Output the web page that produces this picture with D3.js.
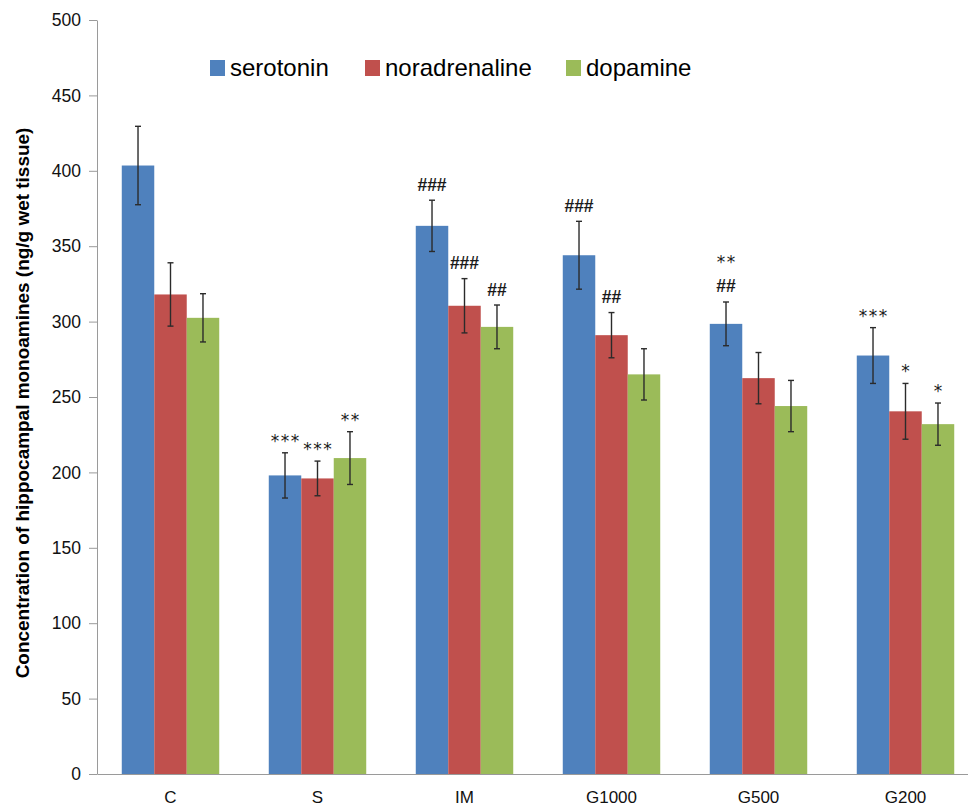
<!DOCTYPE html>
<html>
<head>
<meta charset="utf-8">
<script src="https://cdn.jsdelivr.net/npm/d3@7"></script>
<style>
  html, body { margin: 0; padding: 0; background: #fff; }
  svg { display: block; }
</style>
</head>
<body>
<svg id="chart" width="968" height="810"></svg>
<script>
// ---- data ----
const categories = ["C", "S", "IM", "G1000", "G500", "G200"];
const seriesNames = ["serotonin", "noradrenaline", "dopamine"];
const serotonin = [403.5, 198, 363.5, 344, 298.5, 277.5];
const noradrenaline = [318, 196, 310.5, 291, 262.5, 240.5];
const dopamine = [302.5, 209.5, 296.5, 265, 244, 232];
const serotoninErr = [26, 15, 17, 22.5, 14.5, 18.5];
const noradrenalineErr = [21, 11.5, 18, 15, 17, 18.5];
const dopamineErr = [16, 17.5, 14.5, 17, 17, 14];
// significance marks, listed from the bottom line upward
const serotoninMarks = [[], ["***"], ["###"], ["###"], ["##", "**"], ["***"]];
const noradrenalineMarks = [[], ["***"], ["###"], ["##"], [], ["*"]];
const dopamineMarks = [[], ["**"], ["##"], [], [], ["*"]];
const yTicks = [0, 50, 100, 150, 200, 250, 300, 350, 400, 450, 500];
const yTitle = "Concentration of hippocampal monoamines (ng/g wet tissue)";

(function () {
// ---- build table ----
const values = [serotonin, noradrenaline, dopamine];
const errs = [serotoninErr, noradrenalineErr, dopamineErr];
const marks = [serotoninMarks, noradrenalineMarks, dopamineMarks];
const colors = ["#4F81BD", "#C0504D", "#9BBB59"];
const color = d3.scaleOrdinal().domain(seriesNames).range(colors);

const table = [];
categories.forEach((c, i) => {
  seriesNames.forEach((s, j) => {
    table.push({ cat: c, series: s, value: values[j][i], err: errs[j][i], marks: marks[j][i] });
  });
});

// ---- layout ----
const svg = d3.select("#chart");
const mLeft = 97, mRight = 979, mTop = 20, mBottom = 774;

const x0 = d3.scaleBand().domain(categories).range([mLeft, mRight])
  .paddingInner(0.337).paddingOuter(0.1685);
const x1 = d3.scaleBand().domain(seriesNames).range([0, x0.bandwidth()]);
const y = d3.scaleLinear().domain([0, 500]).range([mBottom, mTop]);

// y axis
const yAxis = svg.append("g")
  .attr("transform", `translate(${mLeft},0)`)
  .call(d3.axisLeft(y).tickValues(yTicks).tickSize(8).tickPadding(8).tickSizeOuter(0));
yAxis.select(".domain").attr("stroke", "#9a9a9a");
yAxis.selectAll(".tick line").attr("stroke", "#9a9a9a");
yAxis.selectAll(".tick text")
  .attr("font-family", "Liberation Sans, Arial, sans-serif")
  .attr("font-size", 17.5).attr("fill", "#111");

// bars
svg.append("g").selectAll("rect").data(table).join("rect")
  .attr("x", d => x0(d.cat) + x1(d.series))
  .attr("y", d => y(d.value))
  .attr("width", x1.bandwidth())
  .attr("height", d => y(0) - y(d.value))
  .attr("fill", d => color(d.series));

// x axis
const xAxis = svg.append("g")
  .attr("transform", `translate(0,${mBottom})`)
  .call(d3.axisBottom(x0).tickSize(0).tickPadding(17).tickSizeOuter(0));
xAxis.select(".domain").attr("stroke", "#9a9a9a");
xAxis.selectAll(".tick text")
  .attr("font-family", "Liberation Sans, Arial, sans-serif")
  .attr("font-size", 17).attr("fill", "#111");

// error bars
const errG = svg.append("g").attr("stroke", "#2b2b2b").attr("stroke-width", 1.4);
const cx = d => x0(d.cat) + x1(d.series) + x1.bandwidth() / 2;
errG.selectAll("line.v").data(table).join("line").attr("class", "v")
  .attr("x1", cx).attr("x2", cx)
  .attr("y1", d => y(d.value + d.err)).attr("y2", d => y(d.value - d.err));
errG.selectAll("line.t").data(table).join("line").attr("class", "t")
  .attr("x1", d => cx(d) - 3).attr("x2", d => cx(d) + 3)
  .attr("y1", d => y(d.value + d.err)).attr("y2", d => y(d.value + d.err));
errG.selectAll("line.b").data(table).join("line").attr("class", "b")
  .attr("x1", d => cx(d) - 3).attr("x2", d => cx(d) + 3)
  .attr("y1", d => y(d.value - d.err)).attr("y2", d => y(d.value - d.err));

// significance marks
const markData = [];
table.forEach(d => {
  d.marks.forEach((m, k) => markData.push({ d, m, k }));
});
const isStar = o => o.m[0] === "*";
svg.append("g").selectAll("text").data(markData).join("text")
  .attr("x", o => cx(o.d) + (isStar(o) ? 0.75 : 0))
  .attr("y", o => {
    const centre = y(o.d.value + o.d.err) - 16 - o.k * 28;
    return isStar(o) ? centre + 10 : centre + 6.5;
  })
  .attr("text-anchor", "middle")
  .attr("font-family", o => isStar(o) ? "DejaVu Sans, sans-serif" : "Liberation Sans, Arial, sans-serif")
  .attr("font-weight", o => isStar(o) ? "normal" : "bold")
  .attr("font-size", o => isStar(o) ? 17 : 17.5)
  .attr("letter-spacing", o => isStar(o) ? 1.5 : 0)
  .attr("fill", "#1a1a1a")
  .text(o => o.m);

// y title
const title = svg.append("text")
  .attr("transform", `translate(29,403) rotate(-90)`)
  .attr("text-anchor", "middle")
  .attr("font-family", "Liberation Sans, Arial, sans-serif")
  .attr("font-weight", "bold")
  .attr("font-size", 17)
  .attr("fill", "#000")
  .text(yTitle);
const tl = title.node().getComputedTextLength();
title.attr("font-size", 17 * 551 / tl);

// legend
const legendX = [210, 365, 566];
const legend = svg.append("g").selectAll("g").data(seriesNames).join("g")
  .attr("transform", (d, i) => `translate(${legendX[i]},60)`);
legend.append("rect").attr("width", 15).attr("height", 16).attr("fill", d => color(d));
legend.append("text").attr("x", 20).attr("y", 16)
  .attr("font-family", "Liberation Sans, Arial, sans-serif")
  .attr("font-size", 24).attr("fill", "#000")
  .text(d => d);
})();
</script>
</body>
</html>
